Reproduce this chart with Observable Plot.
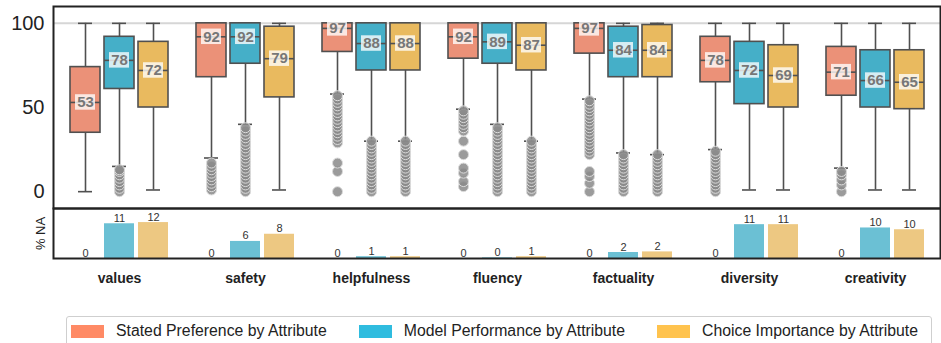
<!DOCTYPE html>
<html>
<head>
<meta charset="utf-8">
<script src="https://cdn.jsdelivr.net/npm/d3@7"></script>
<script src="https://cdn.jsdelivr.net/npm/@observablehq/plot@0.6"></script>
<style>
  html, body { margin: 0; padding: 0; background: #fff; }
  body { width: 941px; height: 343px; overflow: hidden; position: relative; font-family: "Liberation Sans", Arial, sans-serif; }
  #top svg, #bottom svg { display: block; }
  #bottom { margin-top: -2px; }
  #bottom g[aria-label^="x-axis"] text { font-weight: bold; font-size: 14px; fill: #222; }
  #legend { position: absolute; left: 66px; top: 316px; width: 856px; border: 1px solid #cfcfcf; border-radius: 3px;
            padding: 5px 4px 10px 4px; display: flex; align-items: center; gap: 32px; font-size: 15.8px; color: #222; }
  #legend .item { display: flex; align-items: center; gap: 12px; white-space: nowrap; }
  #legend .sw { width: 33px; height: 13px; }
</style>
</head>
<body>
<div id="top"></div>
<div id="bottom"></div>
<div id="legend"></div>
<script>
const attributes = ["values", "safety", "helpfulness", "fluency", "factuality", "diversity", "creativity"];
const series = ["Stated Preference by Attribute", "Model Performance by Attribute", "Choice Importance by Attribute"];

// box statistics, one list per series, in attribute order
const medians = [
  [53, 92, 97, 92, 97, 78, 71],
  [78, 92, 88, 89, 84, 72, 66],
  [72, 79, 88, 87, 84, 69, 65]
];
const q1 = [
  [35, 68, 83, 79, 82, 65, 57],
  [61, 76, 72, 76, 68, 52, 50],
  [50, 56, 72, 72, 68, 50, 49]
];
const q3 = [
  [74, 100, 100, 100, 100, 92, 86],
  [92, 100, 100, 100, 98, 89, 84],
  [89, 98, 100, 100, 99, 87, 84]
];
const whiskerLow = [
  [0, 20, 58, 49, 55, 25, 14],
  [15, 40, 30, 40, 23, 1, 1],
  [1, 1, 30, 30, 22, 1, 1]
];
const whiskerHigh = [
  [100, 100, 100, 100, 100, 100, 100],
  [100, 100, 100, 100, 100, 100, 100],
  [100, 100, 100, 100, 100, 100, 100]
];

// outlier values, per series, per attribute
const outliers = [
  [
    [],
    [1, 3, 5, 7, 9, 11, 13, 15, 17],
    [0, 12, 17, 29, 31, 33, 35, 37, 39, 41, 43, 45, 47, 49, 51, 53, 55, 57],
    [3, 6, 11, 14, 22, 30, 36, 38, 40, 42, 44, 46, 48],
    [0, 5, 9, 12, 22, 24, 26, 28, 30, 32, 34, 36, 38, 40, 42, 44, 46, 48, 50, 52, 54],
    [0, 2, 4, 6, 8, 10, 12, 14, 16, 18, 20, 22, 24],
    [0, 4, 7, 10, 12]
  ],
  [
    [0, 2, 4, 6, 8, 10, 12, 13],
    [0, 2, 4, 6, 8, 10, 12, 14, 16, 18, 20, 22, 24, 26, 28, 30, 32, 34, 36, 38],
    [0, 2, 4, 6, 8, 10, 12, 14, 16, 18, 20, 22, 24, 26, 28, 30],
    [0, 2, 4, 6, 8, 10, 12, 14, 16, 18, 20, 22, 24, 26, 28, 30, 32, 34, 36, 38],
    [0, 2, 4, 6, 8, 10, 12, 14, 16, 18, 20, 22],
    [],
    []
  ],
  [
    [],
    [],
    [0, 2, 4, 6, 8, 10, 12, 14, 16, 18, 20, 22, 24, 26, 28, 30],
    [0, 2, 4, 6, 8, 10, 12, 14, 16, 18, 20, 22, 24, 26, 28, 30],
    [0, 2, 4, 6, 8, 10, 12, 14, 16, 18, 20, 22],
    [],
    []
  ]
];

// % NA
const naValues = [
  [0, 0, 0, 0, 0, 0, 0],
  [11.6, 5.7, 0.6, 0.2, 2.0, 11.3, 10.2],
  [12.0, 8.1, 0.6, 0.6, 2.2, 11.3, 9.6]
];
const naLabels = [
  ["0", "0", "0", "0", "0", "0", "0"],
  ["11", "6", "1", "0", "2", "11", "10"],
  ["12", "8", "1", "1", "2", "11", "10"]
];

const boxColors = ["#EB9178", "#45AFC8", "#E9BA5F"];
const naColors = ["#F2A58E", "#6BC0D4", "#EDC882"];
const legendColors = ["#FF8A65", "#2FBCDF", "#FFC34E"];
const offsets = [-34, 0, 34];

const boxRows = series.map((s, si) => attributes.map((a, ai) => ({
  series: s, attr: a, q1: q1[si][ai], med: medians[si][ai], q3: q3[si][ai],
  lo: whiskerLow[si][ai], hi: whiskerHigh[si][ai]
})));
const outlierRows = series.map((s, si) => attributes.flatMap((a, ai) =>
  outliers[si][ai].map(v => ({series: s, attr: a, v}))));
const naRows = series.map((s, si) => attributes.map((a, ai) => ({
  series: s, attr: a, na: naValues[si][ai], label: naLabels[si][ai]
})));

const font = '"Liberation Sans", Arial, sans-serif';
const boxInset = 48, capInset = 56, lblInset = 53;
const dark = "#505050";

const topMarks = [Plot.ruleY([100], {stroke: "#d6d6d6", strokeWidth: 2})];
series.forEach((s, si) => {
  const rows = boxRows[si], dx = offsets[si];
  topMarks.push(
    Plot.ruleX(rows, {x: "attr", y1: "lo", y2: "hi", stroke: dark, strokeWidth: 1.6, dx}),
    Plot.tickY(rows, {x: "attr", y: "hi", stroke: dark, strokeWidth: 1.6, insetLeft: capInset, insetRight: capInset, dx}),
    Plot.tickY(rows, {x: "attr", y: "lo", stroke: dark, strokeWidth: 1.6, insetLeft: capInset, insetRight: capInset, dx}),
    Plot.barY(rows, {x: "attr", y1: "q1", y2: "q3", fill: boxColors[si], stroke: dark, strokeWidth: 1.6, insetLeft: boxInset, insetRight: boxInset, dx}),
    Plot.tickY(rows, {x: "attr", y: "med", stroke: dark, strokeWidth: 1.6, insetLeft: boxInset, insetRight: boxInset, dx}),
    Plot.dot(outlierRows[si], {x: "attr", y: "v", r: 5, fill: "#8a8a8a", fillOpacity: 0.85, stroke: "#dcdcdc", strokeWidth: 1, dx}),
    Plot.barY(rows, {x: "attr", y1: d => d.med - 4.6, y2: d => d.med + 4.6, fill: "#fff", fillOpacity: 0.78, insetLeft: lblInset, insetRight: lblInset, dx}),
    Plot.text(rows, {x: "attr", y: "med", text: d => String(d.med), fill: "#777", fontWeight: "bold", fontSize: 15, fontFamily: font, dx})
  );
});
topMarks.push(Plot.frame({stroke: "#222", strokeWidth: 2}));

const topPlot = Plot.plot({
  width: 941, height: 209,
  marginTop: 6, marginBottom: 1, marginLeft: 53, marginRight: 1,
  x: {type: "band", domain: attributes, padding: 0, axis: null},
  y: {domain: [-10, 110], ticks: [0, 50, 100], tickSize: 0, tickPadding: 9, label: null},
  style: {fontSize: "20px", fontFamily: font, color: "#222", background: "transparent", overflow: "visible"},
  marks: topMarks
});
document.getElementById("top").appendChild(topPlot);

const bottomMarks = [];
series.forEach((s, si) => {
  const rows = naRows[si], dx = offsets[si];
  bottomMarks.push(
    Plot.barY(rows, {x: "attr", y: "na", fill: naColors[si], insetLeft: boxInset, insetRight: boxInset, dx}),
    Plot.text(rows, {x: "attr", y: "na", text: "label", lineAnchor: "bottom", dy: -2, fontSize: 11, fill: "#333", fontFamily: font, dx})
  );
});
bottomMarks.push(
  Plot.frame({stroke: "#222", strokeWidth: 2}),
  Plot.text(["% NA"], {text: d => d, frameAnchor: "left", rotate: -90, dx: -13, textAnchor: "middle", fontSize: 13, fill: "#222", fontFamily: font})
);

const bottomPlot = Plot.plot({
  width: 941, height: 92,
  marginTop: 1, marginBottom: 41, marginLeft: 53, marginRight: 1,
  x: {type: "band", domain: attributes, padding: 0, tickSize: 0, tickPadding: 15, label: null},
  y: {domain: [0, 16.7], axis: null},
  style: {fontSize: "14px", fontFamily: font, color: "#222", background: "transparent", overflow: "visible"},
  marks: bottomMarks
});
document.getElementById("bottom").appendChild(bottomPlot);

const legend = document.getElementById("legend");
series.forEach((s, si) => {
  const item = document.createElement("div");
  item.className = "item";
  const sw = document.createElement("div");
  sw.className = "sw";
  sw.style.background = legendColors[si];
  const label = document.createElement("span");
  label.textContent = s;
  item.appendChild(sw);
  item.appendChild(label);
  legend.appendChild(item);
});
</script>
</body>
</html>
